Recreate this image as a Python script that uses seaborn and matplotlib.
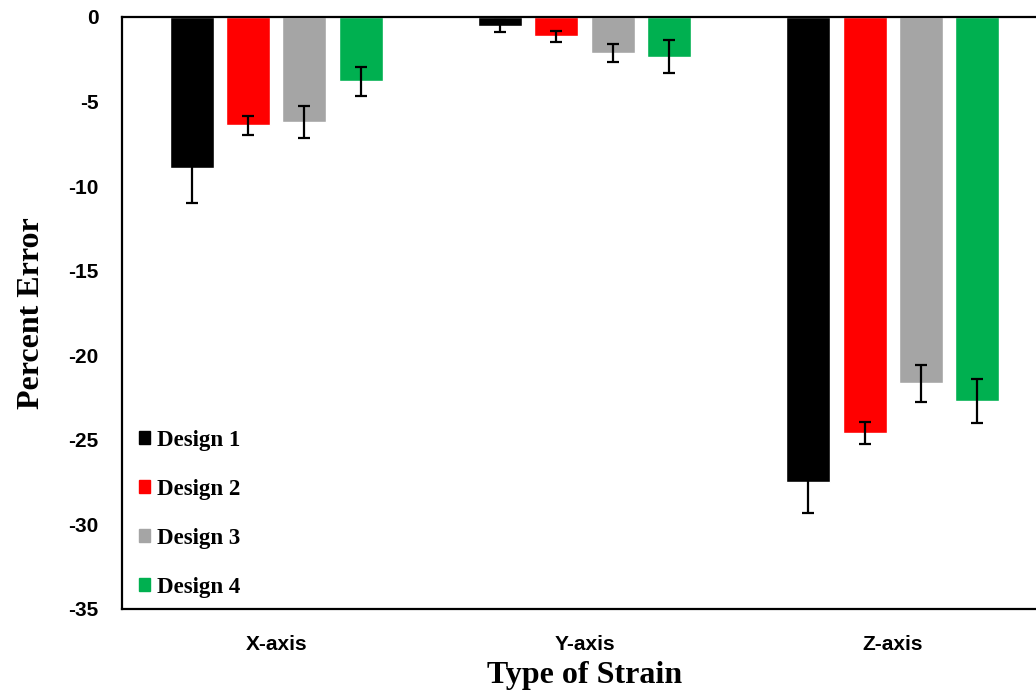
import matplotlib
matplotlib.use("Agg")
import matplotlib.pyplot as plt
import numpy as np
import pandas as pd
import seaborn as sns

# Strain directions and design variants
strains = ["X-axis", "Y-axis", "Z-axis"]
designs = ["Design 1", "Design 2", "Design 3", "Design 4"]

# Mean percent error per design, ordered by strain direction
design1 = [-8.9, -0.53, -27.5]
design2 = [-6.4, -1.15, -24.6]
design3 = [-6.2, -2.15, -21.65]
design4 = [-3.8, -2.35, -22.7]

# Error bar half-widths
design1_err = [2.1, 0.33, 1.8]
design2_err = [0.55, 0.31, 0.66]
design3_err = [0.95, 0.53, 1.1]
design4_err = [0.87, 0.98, 1.28]

colors = ["#000000", "#FF0000", "#A5A5A5", "#00B050"]

means = [design1, design2, design3, design4]
errs = [design1_err, design2_err, design3_err, design4_err]

df = pd.DataFrame({
    "strain": [s for _ in designs for s in strains],
    "design": [d for d in designs for _ in strains],
    "value": [v for m in means for v in m],
    "err": [e for er in errs for e in er],
})

sns.set_style("white")
plt.rcParams["font.family"] = ["Liberation Sans Narrow", "DejaVu Sans Condensed",
                               "Liberation Sans", "DejaVu Sans"]
plt.rcParams["text.color"] = "black"
plt.rcParams["axes.labelcolor"] = "black"
plt.rcParams["xtick.color"] = "black"
plt.rcParams["ytick.color"] = "black"

fig = plt.figure(figsize=(10.36, 6.91), dpi=100)
ax = fig.add_axes([122 / 1036, 82 / 691, 925 / 1036, 592 / 691])

sns.barplot(data=df, x="strain", y="value", hue="design", order=strains,
            hue_order=designs, palette=colors, width=0.73, gap=0.22,
            errorbar=None, saturation=1, ax=ax, legend=False)

# Error bars placed on each bar's centre
for i, d in enumerate(designs):
    cont = ax.containers[i]
    xs = [p.get_x() + p.get_width() / 2 for p in cont.patches]
    ax.errorbar(xs, means[i], yerr=errs[i], fmt="none", ecolor="black",
                elinewidth=1.6, capsize=4.2, capthick=1.6, zorder=5)

ax.set_xlim(-0.5, 2.5)
ax.set_ylim(-35, 0)
ax.set_yticks(np.arange(-35, 1, 5))
ax.set_yticklabels([f"{t:d}" for t in np.arange(-35, 1, 5)])

for sp in ["left", "bottom", "top"]:
    ax.spines[sp].set_visible(True)
    ax.spines[sp].set_color("black")
    ax.spines[sp].set_linewidth(1.6)
ax.spines["right"].set_visible(False)

ax.tick_params(axis="both", length=0, labelsize=15, labelcolor="black")
ax.tick_params(axis="y", pad=17)
ax.tick_params(axis="x", pad=19)
for lab in ax.get_xticklabels() + ax.get_yticklabels():
    lab.set_fontweight("bold")

serif = ["Liberation Serif", "DejaVu Serif"]
ax.set_xlabel("Type of Strain", fontsize=23, fontweight="bold", family=serif,
              labelpad=5, color="black")
ax.set_ylabel("Percent Error", fontsize=23, fontweight="bold", family=serif,
              labelpad=16, color="black")

handles = [plt.Rectangle((0, 0), 1, 1, color=c) for c in colors]
leg = ax.legend(handles, designs, loc="lower left", bbox_to_anchor=(0.006, 0.0),
                frameon=False, handlelength=0.5, handleheight=0.5,
                handletextpad=0.3, labelspacing=1.22, borderaxespad=0.2,
                borderpad=0.3, prop={"family": serif, "weight": "bold", "size": 16.5})
for t in leg.get_texts():
    t.set_color("black")

fig.savefig("out.png", dpi=100)
